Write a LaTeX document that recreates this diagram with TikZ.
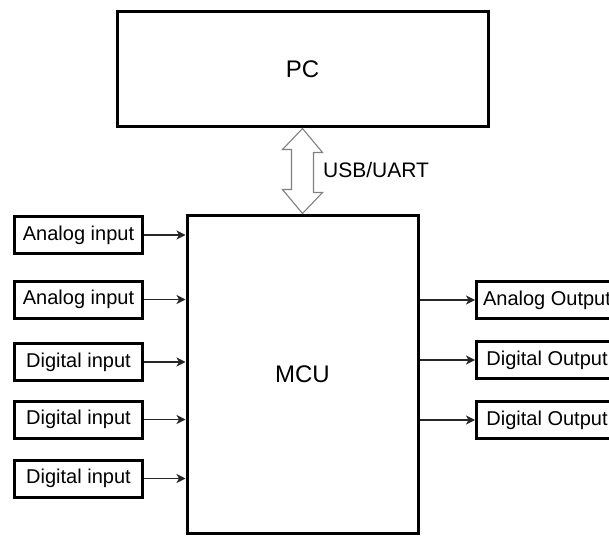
\documentclass[tikz,border=0pt]{standalone}
\usepackage{fontspec}
\setmainfont{Liberation Sans}
\usepackage{tikz}
\usetikzlibrary{calc, arrows.meta, positioning}

\begin{document}
\begin{tikzpicture}[x=1pt, y=1pt, >={Stealth[length=9pt, width=9pt, inset=2.5pt]},
    block/.style={draw, line width=3pt, inner sep=0pt},
    io/.style={block, minimum height=37pt, font=\fontsize{20}{24}\selectfont},
    wire/.style={->, line width=1.2pt, color=black!85},
    bus/.style={line width=1.1pt, color=black!50, line join=miter}]
    % Khung hình và vùng cắt
    \useasboundingbox (0,0) rectangle (609,536);
    \clip (0,0) rectangle (609,536);

    % Khối PC và MCU
    \node[block, minimum width=371pt, minimum height=115pt,
          font=\fontsize{24}{28}\selectfont] (pc) at (302.5,466.5) {PC};
    \node[block, minimum width=231pt, minimum height=318pt,
          font=\fontsize{24}{28}\selectfont] (mcu) at (302.5,162) {MCU};

    % Mũi tên hai chiều USB/UART
    \draw[bus] (pc.south) -- ++(20,-24) -- ++(-9,0) -- ++(0,-40) -- ++(9,0)
        -- (mcu.north) -- ++(-20,24) -- ++(9,0) -- ++(0,40) -- ++(-9,0) -- cycle;
    \node[anchor=west, inner sep=0pt, font=\fontsize{21}{25}\selectfont] (usb)
        at (323,366.5) {USB/UART};

    % Các ngõ vào
    \node[io, minimum width=128pt] (in1) at (78.5,301) {Analog input};
    \node[io, minimum width=128pt] (in2) at (78.5,236.5) {Analog input};
    \node[io, minimum width=128pt] (in3) at (78.5,174) {Digital input};
    \node[io, minimum width=128pt] (in4) at (78.5,116.5) {Digital input};
    \node[io, minimum width=128pt] (in5) at (78.5,57.5) {Digital input};
    \foreach \i in {1,...,5}
        \draw[wire] (in\i) -- (in\i -| mcu.west);

    % Các ngõ ra
    \node[io, minimum width=141pt] (out1) at (547,236) {Analog Output};
    \node[io, minimum width=141pt] (out2) at (547,176) {Digital Output};
    \node[io, minimum width=141pt] (out3) at (547,116) {Digital Output};
    \foreach \i in {1,2,3}
        \draw[wire] (mcu.east |- out\i) -- (out\i);
\end{tikzpicture}
\end{document}
